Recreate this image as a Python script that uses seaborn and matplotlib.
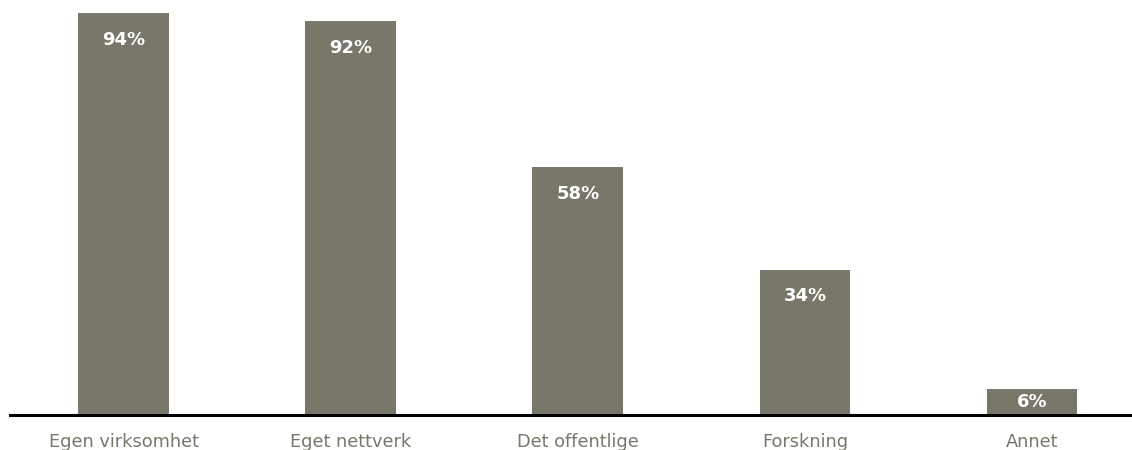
import matplotlib
matplotlib.use("Agg")
import matplotlib.pyplot as plt
import seaborn as sns
import pandas as pd

categories = ["Egen virksomhet", "Eget nettverk", "Det offentlige", "Forskning", "Annet"]
values = [94, 92, 58, 34, 6]

BAR_COLOR = "#78776a"
LABEL_COLOR = "#77776a"

sns.set_theme(style="white")
plt.rcParams["font.family"] = ["DejaVu Sans"]

df = pd.DataFrame({"kategori": categories, "andel": values})

fig = plt.figure(figsize=(11.32, 4.5), dpi=100)
ax = fig.add_axes([10 / 1132, 35 / 450, 1 - 10 / 1132, 1 - 35 / 450])

sns.barplot(data=df, x="kategori", y="andel", color=BAR_COLOR, width=0.4,
            saturation=1, linewidth=0, ax=ax)

ax.set_xlim(-0.5, 4.44)
ax.set_ylim(0, 97)

for i, v in enumerate(values):
    y = max(v - 6.3, v / 2)
    ax.text(i, y, f"{v}%", ha="center", va="center", color="white",
            fontsize=13, fontweight="bold")

for s in ["top", "right", "left"]:
    ax.spines[s].set_visible(False)
ax.spines["bottom"].set_color("black")
ax.spines["bottom"].set_linewidth(2.2)
ax.set_yticks([])
ax.set_xlabel("")
ax.set_ylabel("")
ax.tick_params(axis="x", length=0, pad=13, labelsize=12.8, labelcolor=LABEL_COLOR)
ax.patch.set_alpha(0)

fig.savefig("out.png", dpi=100)
